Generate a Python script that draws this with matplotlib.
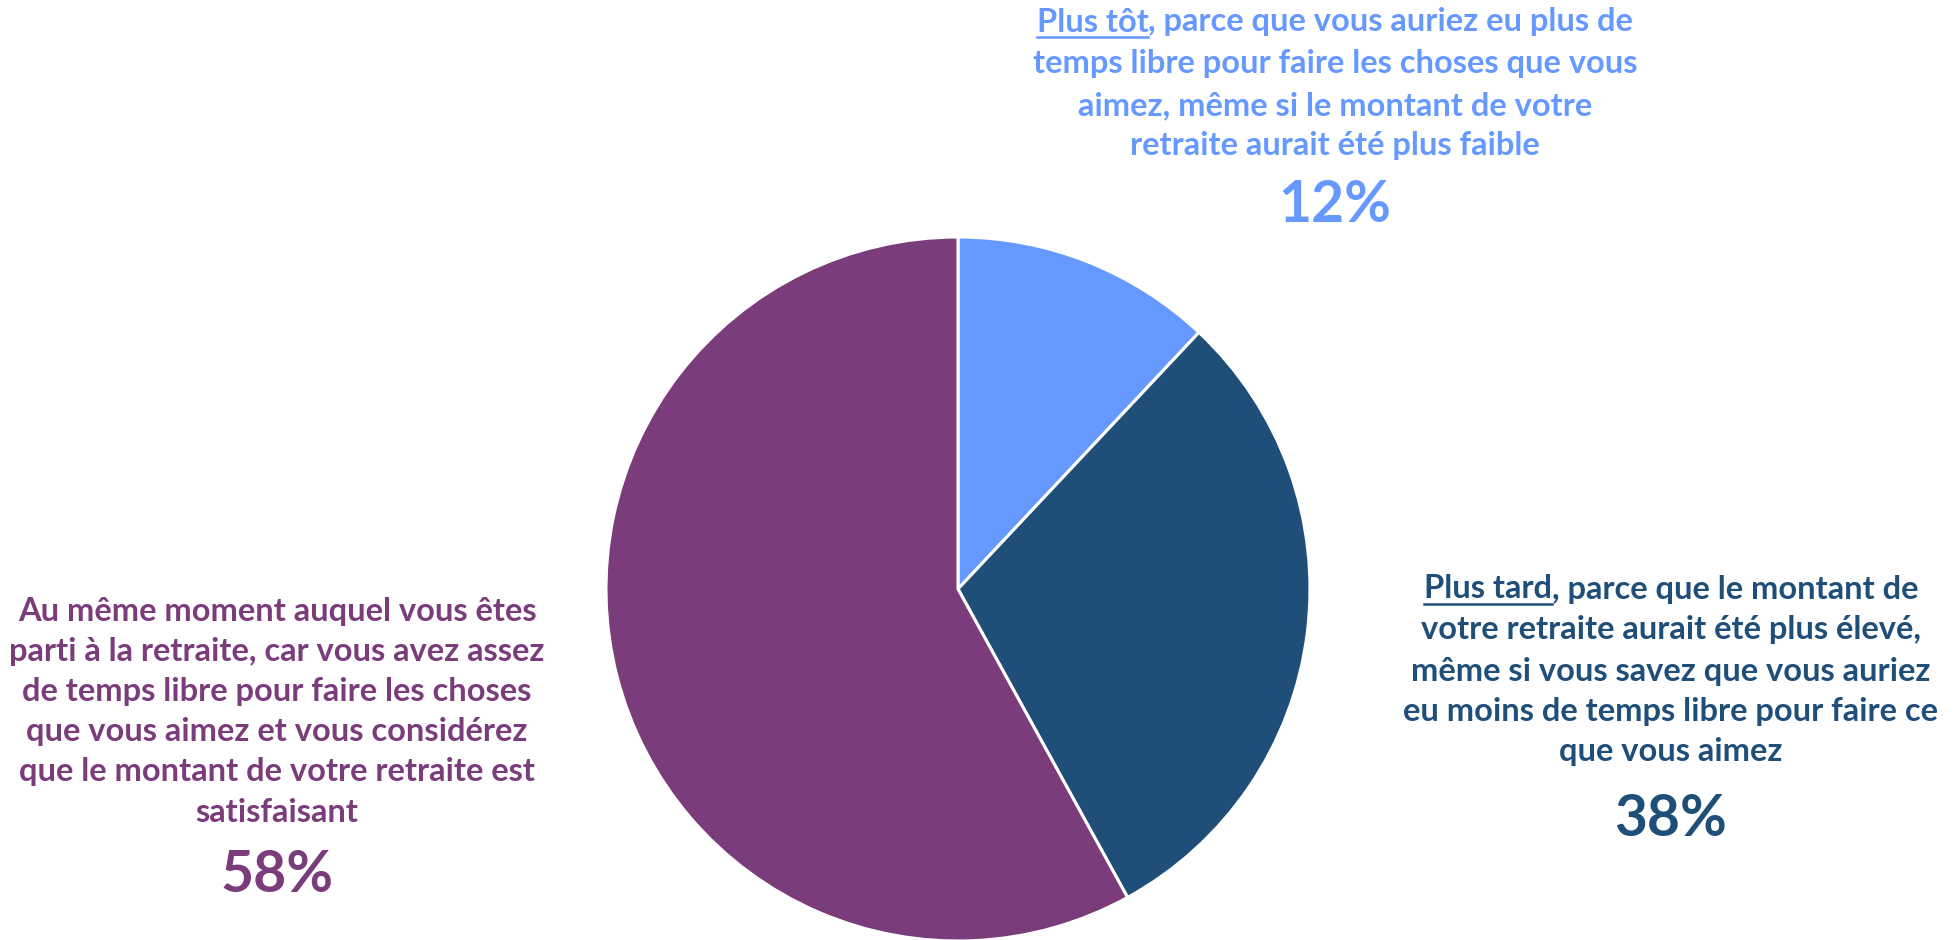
import matplotlib
matplotlib.use("Agg")
import matplotlib.pyplot as plt
from matplotlib.lines import Line2D

# slice sizes as drawn, and the labels printed next to them
slice_sizes = [12, 30, 58]
pct_labels = ["12%", "38%", "58%"]
slice_colors = ["#6699FF", "#1F4E79", "#7A3C7A"]

label_top = ["Plus tôt|, parce que vous auriez eu plus de",
             "temps libre pour faire les choses que vous",
             "aimez, même si le montant de votre",
             "retraite aurait été plus faible"]
label_right = ["Plus tard|, parce que le montant de",
               "votre retraite aurait été plus élevé,",
               "même si vous savez que vous auriez",
               "eu moins de temps libre pour faire ce",
               "que vous aimez"]
label_left = ["Au même moment auquel vous êtes",
              "parti à la retraite, car vous avez assez",
              "de temps libre pour faire les choses",
              "que vous aimez et vous considérez",
              "que le montant de votre retraite est",
              "satisfaisant"]

W, H = 1956, 940
plt.rcParams['font.family'] = ['Lato', 'DejaVu Sans']
fig = plt.figure(figsize=(W / 100, H / 100), dpi=100)
fig.set_facecolor('white')

# pie centred at (958, 589) px, radius ~352 px
cx, cy, r = 958, 589, 352
ax = fig.add_axes([(cx - r) / W, (H - cy - r) / H, 2 * r / W, 2 * r / H])
ax.pie(slice_sizes, colors=slice_colors, startangle=90, counterclock=False,
       radius=1, wedgeprops=dict(edgecolor='white', linewidth=2.2))
ax.set_xlim(-1, 1)
ax.set_ylim(-1, 1)
ax.set_aspect('equal')
ax.set_axis_off()

renderer = fig.canvas.get_renderer()


def px(x, y):
    return x / W, 1 - y / H


def draw_block(x, ys, lines, color, pct, pct_y, size=23.5):
    for line, y in zip(lines, ys):
        if '|' in line:
            head, tail = line.split('|')
            full = fig.text(*px(x, y), head + tail, ha='center', va='center',
                            fontsize=size, fontweight='bold', color=color)
            wfull = full.get_window_extent(renderer).width
            full.remove()
            x0 = x - wfull / 2
            t1 = fig.text(*px(x0, y), head, ha='left', va='center',
                          fontsize=size, fontweight='bold', color=color)
            w1 = t1.get_window_extent(renderer).width
            fig.text(*px(x0 + w1, y), tail, ha='left', va='center',
                     fontsize=size, fontweight='bold', color=color)
            uy = y + size * 0.62
            fig.add_artist(Line2D([x0 / W, (x0 + w1) / W], [1 - uy / H, 1 - uy / H],
                                  color=color, linewidth=1.8,
                                  transform=fig.transFigure))
        else:
            fig.text(*px(x, y), line, ha='center', va='center',
                     fontsize=size, fontweight='bold', color=color)
    fig.text(*px(x, pct_y), pct, ha='center', va='center',
             fontsize=41, fontweight='bold', color=color)


draw_block(1335, [22, 64, 106, 146], label_top, slice_colors[0], pct_labels[0], 206)
draw_block(1671, [589, 630, 671, 711, 752], label_right, slice_colors[1], pct_labels[1], 820)
draw_block(277, [611, 651, 691, 731, 772, 812], label_left, slice_colors[2], pct_labels[2], 876)

fig.savefig("out.png", dpi=100, facecolor='white')
